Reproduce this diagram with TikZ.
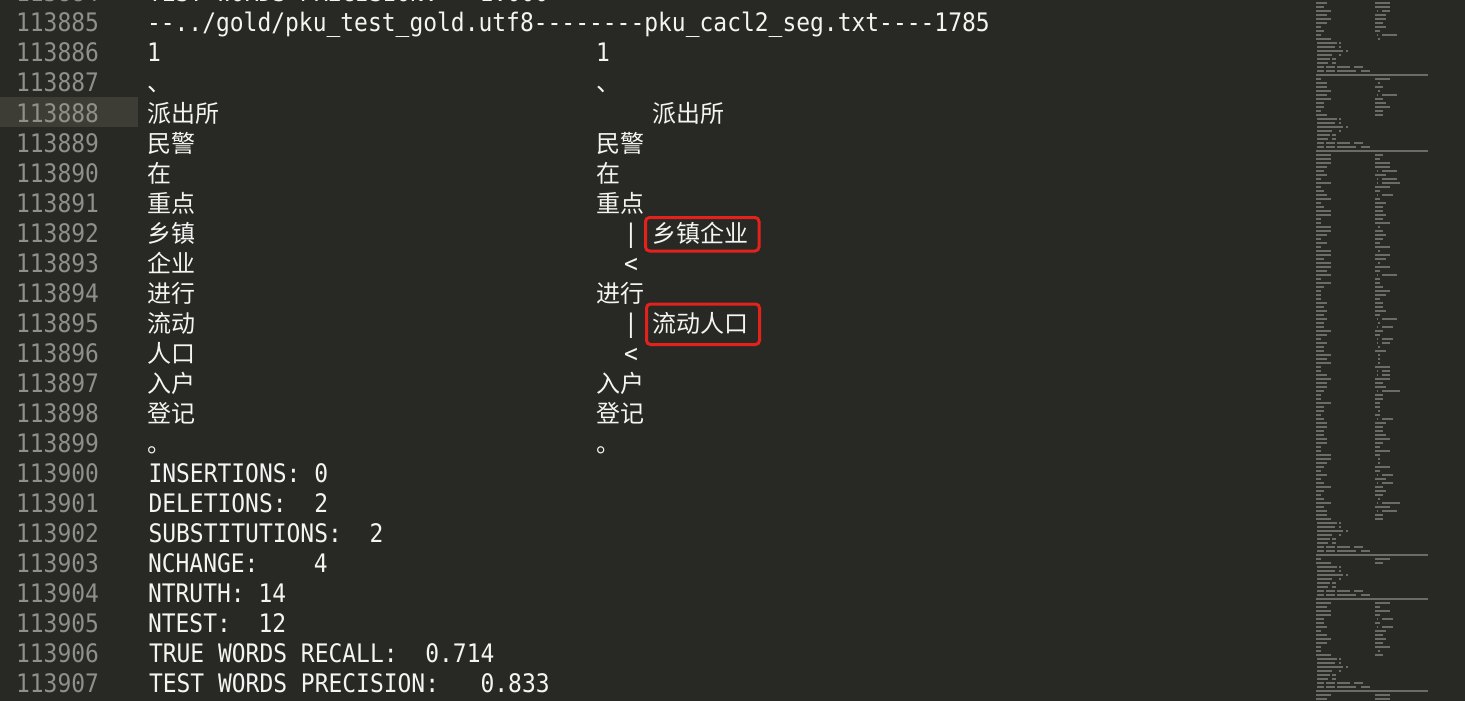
\documentclass[tikz,border=0pt]{standalone}
\usepackage{fontspec}
\newfontfamily\code[FakeStretch=0.9,Ligatures=TeXOff]{DejaVu Sans Mono}
\newfontfamily\cjk{Noto Sans CJK SC}
\definecolor{bg}{HTML}{282825}
\definecolor{hl}{HTML}{3D3C35}
\definecolor{numc}{HTML}{8F908A}
\definecolor{txtc}{HTML}{F4F4F2}
\definecolor{boxred}{HTML}{E3221C}
\definecolor{mmc}{HTML}{6C6C67}
\tikzset{
  num/.style={anchor=base east, inner sep=0pt, outer sep=0pt, text=numc, font=\code\fontsize{25.5}{30}\selectfont},
  txt/.style={anchor=base west, inner sep=0pt, outer sep=0pt, text=txtc, font=\code\fontsize{25.5}{30}\selectfont},
  zh/.style={anchor=base west, inner sep=0pt, outer sep=0pt, text=txtc, font=\cjk\fontsize{24}{30}\selectfont},
  redbox/.style={draw=boxred, line width=3pt, rounded corners=4pt},
}
\newcommand\mmrow[1]{%
  \pgfmathsetmacro\mmr{rnd}%
  \pgfmathsetmacro\mwl{1.5+3.3*random(1,4)}%
  \pgfmathsetmacro\mwr{1.5+3.3*random(1,4)}%
  \fill[mmc] (1316,#1) rectangle ++(\mwl,1.8);
  \ifdim\mmr pt<0.7pt
    \fill[mmc] (1375,#1) rectangle ++(\mwr,1.8);
  \else\ifdim\mmr pt<0.85pt
    \fill[mmc] (1377,#1) rectangle ++(0.8,1.8);
    \fill[mmc] (1382,#1) rectangle ++(\mwr+3.3,1.8);
  \else
    \fill[mmc] (1378,#1) rectangle ++(1.6,1.8);
  \fi\fi}
\newcommand\mmblock[2]{%
  \foreach \k in {1,...,#2}{\pgfmathsetmacro\yy{#1+(\k-1)*4}\mmrow{\yy}}
  \foreach \segs [count=\j from 0] in {{0/20,22/2},{0/18,22/2},{0/26,29/2},{0/15,22/2},{0/13,15/4},{0/11,15/4},{0/7,9/9,20/13,37/9},{0/7,9/9,20/19,44/9}}{%
    \pgfmathsetmacro\yy{#1+(#2+\j)*4}
    \foreach \o/\w in \segs {\fill[mmc] (1317+\o,\yy) rectangle ++(\w,1.8);}
  }
  \pgfmathsetmacro\yy{#1+(#2+8)*4}
  \fill[mmc] (1316,\yy) rectangle ++(112,1.8);
}
\begin{document}
\begin{tikzpicture}[x=1pt,y=-1pt]
\useasboundingbox (0,0) rectangle (1465,701);
\clip (0,0) rectangle (1465,701);
\fill[bg] (0,0) rectangle (1465,701);
\fill[hl] (0,97) rectangle (138,127);
% line numbers
\foreach \i in {0,...,24}{
  \node[num] (ln\i) at (99,{2+30*\i}) {\number\numexpr113884+\i\relax};
}
% left column
\node[txt] (a0) at (148,2) {TEST WORDS PRECISION:~~~1.000};
\node[txt] (a1) at (147,32) {-{}-../gold/pku\_test\_gold.utf8-{}-{}-{}-{}-{}-{}-{}-pku\_cacl2\_seg.txt-{}-{}-{}-1785};
\node[txt] (a2) at (147,62) {1};
\node[zh] (a3) at (147,92) {、};
\node[zh] (a4) at (147,122) {派出所};
\node[zh] (a5) at (147,152) {民警};
\node[zh] (a6) at (147,182) {在};
\node[zh] (a7) at (147,212) {重点};
\node[zh] (a8) at (147,242) {乡镇};
\node[zh] (a9) at (147,272) {企业};
\node[zh] (a10) at (147,302) {进行};
\node[zh] (a11) at (147,332) {流动};
\node[zh] (a12) at (147,362) {人口};
\node[zh] (a13) at (147,392) {入户};
\node[zh] (a14) at (147,422) {登记};
\node[zh] (a15) at (147,452) {。};
\node[txt] (a16) at (148.5,482) {INSERTIONS:~0};
\node[txt] (a17) at (148.5,512) {DELETIONS:~~2};
\node[txt] (a18) at (148.5,542) {SUBSTITUTIONS:~~2};
\node[txt] (a19) at (148,572) {NCHANGE:~~~~4};
\node[txt] (a20) at (148,602) {NTRUTH:~14};
\node[txt] (a21) at (148,632) {NTEST:~~12};
\node[txt] (a22) at (149,662) {TRUE WORDS RECALL:~~0.714};
\node[txt] (a23) at (149,692) {TEST WORDS PRECISION:~~~0.833};
\node[txt] (a24) at (147,722) {-{}-../gold/pku\_test\_gold.utf8-{}-{}-{}-{}-{}-{}-{}-pku\_cacl2\_seg.txt-{}-{}-{}-1786};
% right column
\node[txt] (b2) at (596,62) {1};
\node[zh] (b3) at (596,92) {、};
\node[zh] (b4) at (652,122) {派出所};
\node[zh] (b5) at (596,152) {民警};
\node[zh] (b6) at (596,182) {在};
\node[zh] (b7) at (596,212) {重点};
\node[txt] (b8m) at (624,242) {|};
\node[zh] (b8) at (652,242) {乡镇企业};
\node[txt] (b9) at (624,272) {<};
\node[zh] (b10) at (596,302) {进行};
\node[txt] (b11m) at (624,332) {|};
\node[zh] (b11) at (652,332) {流动人口};
\node[txt] (b12) at (624,362) {<};
\node[zh] (b13) at (596,392) {入户};
\node[zh] (b14) at (596,422) {登记};
\node[zh] (b15) at (596,452) {。};
% red highlight boxes
\draw[redbox] (645.5,217.5) rectangle (759,251);
\draw[redbox] (646.5,304) rectangle (759.5,344.5);
% minimap
\pgfmathsetseed{7}
\mmblock{-2}{11}
\mmblock{78}{10}
\mmblock{154}{92}
\mmblock{558}{2}
\mmblock{602}{14}
\mmblock{694}{5}
\end{tikzpicture}
\end{document}
